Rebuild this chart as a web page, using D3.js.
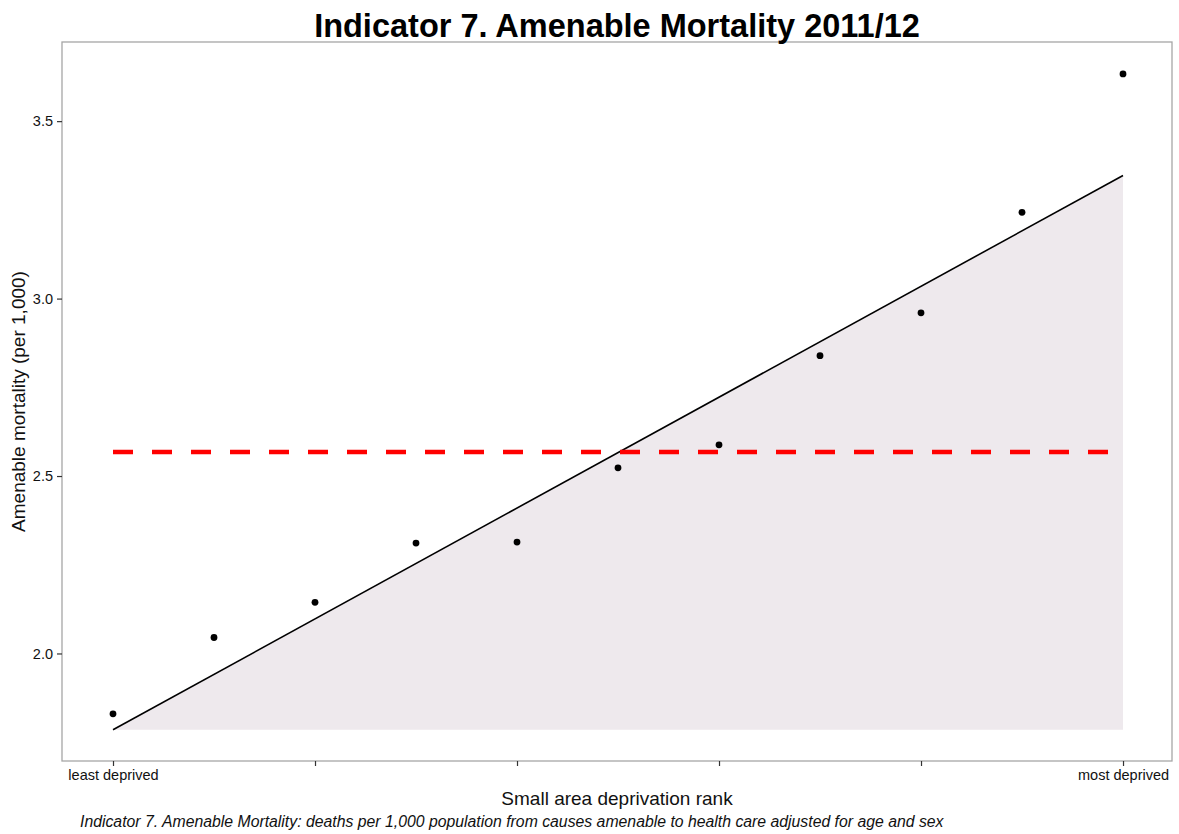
<!DOCTYPE html>
<html>
<head>
<meta charset="utf-8">
<script src="https://cdn.jsdelivr.net/npm/d3@7"></script>
<style>
  html, body { margin: 0; padding: 0; background: #fff; }
  svg { display: block; font-family: "Liberation Sans", Arial, sans-serif; }
</style>
</head>
<body>
<svg id="chart" width="1179" height="834"></svg>
<script>
// Deprivation ranks (11 groups) and amenable mortality per 1,000
const ranks = [0, 1, 2, 3, 4, 5, 6, 7, 8, 9, 10];
const mortality = [1.830, 2.045, 2.144, 2.311, 2.314, 2.523, 2.588, 2.839, 2.960, 3.243, 3.633];
// Fitted regression line end points (rank 0 and rank 10)
const fitEnds = [1.785, 3.347];
// Overall average mortality
const average = [2.568];
const yTicks = [2.0, 2.5, 3.0, 3.5];
const xTicks = [0, 2, 4, 6, 8, 10];
const xTickLabels = ["least deprived", "", "", "", "", "most deprived"];

const svg = d3.select("#chart");
const m = { left: 62, right: 1172, top: 42, bottom: 761 };

const x = d3.scaleLinear().domain([-0.505, 10.485]).range([m.left, m.right]);
const y = d3.scaleLinear().domain([1.697, 3.723]).range([m.bottom, m.top]);

// Shaded area under the fitted line
const fitPts = [[ranks[0], fitEnds[0]], [ranks[ranks.length - 1], fitEnds[1]]];
svg.append("path")
  .attr("d", d3.line().x(d => x(d[0])).y(d => y(d[1]))([
    fitPts[0], fitPts[1], [fitPts[1][0], fitEnds[0]]
  ]) + "Z")
  .attr("fill", "#eee9ed");

// Fitted line
svg.append("line")
  .attr("x1", x(fitPts[0][0])).attr("y1", y(fitPts[0][1]))
  .attr("x2", x(fitPts[1][0])).attr("y2", y(fitPts[1][1]))
  .attr("stroke", "#000").attr("stroke-width", 1.6);

// Average (dashed red)
svg.append("line")
  .attr("x1", x(ranks[0])).attr("y1", y(average[0]))
  .attr("x2", x(ranks[ranks.length - 1])).attr("y2", y(average[0]))
  .attr("stroke", "#ff0000").attr("stroke-width", 4.5)
  .attr("stroke-dasharray", "20,19");

// Points
svg.append("g").selectAll("circle")
  .data(ranks.map((r, i) => [r, mortality[i]]))
  .join("circle")
  .attr("cx", d => x(d[0])).attr("cy", d => y(d[1]))
  .attr("r", 3.4).attr("fill", "#000");

// Panel border
svg.append("rect")
  .attr("x", m.left).attr("y", m.top)
  .attr("width", m.right - m.left).attr("height", m.bottom - m.top)
  .attr("fill", "none").attr("stroke", "#a6a6a6").attr("stroke-width", 1.3);

const tickFont = "14.5px";

// Y axis
const yAxis = svg.append("g")
  .attr("transform", `translate(${m.left},0)`)
  .call(d3.axisLeft(y).tickValues(yTicks).tickFormat(d3.format(".1f")).tickSize(5).tickPadding(4));
yAxis.select(".domain").remove();
yAxis.selectAll(".tick line").attr("stroke", "#333").attr("stroke-width", 1.2);
yAxis.selectAll(".tick text").attr("fill", "#111").style("font-size", tickFont)
  .style("font-family", "'Liberation Sans', Arial, sans-serif");

// X axis
const xAxis = svg.append("g")
  .attr("transform", `translate(0,${m.bottom})`)
  .call(d3.axisBottom(x).tickValues(xTicks).tickFormat((d, i) => xTickLabels[i]).tickSize(5).tickPadding(4));
xAxis.select(".domain").remove();
xAxis.selectAll(".tick line").attr("stroke", "#333").attr("stroke-width", 1.2);
xAxis.selectAll(".tick text").attr("fill", "#111").style("font-size", tickFont)
  .style("font-family", "'Liberation Sans', Arial, sans-serif");

// Title
svg.append("text")
  .attr("x", (m.left + m.right) / 2).attr("y", 37)
  .attr("text-anchor", "middle")
  .style("font-size", "32.5px").style("font-weight", "bold")
  .text("Indicator 7. Amenable Mortality 2011/12");

// Axis titles
svg.append("text")
  .attr("x", (m.left + m.right) / 2).attr("y", 805)
  .attr("text-anchor", "middle").attr("fill", "#111")
  .style("font-size", "19px")
  .text("Small area deprivation rank");

svg.append("text")
  .attr("transform", `translate(25,${(m.top + m.bottom) / 2}) rotate(-90)`)
  .attr("text-anchor", "middle").attr("fill", "#111")
  .style("font-size", "19px")
  .text("Amenable mortality (per 1,000)");

// Caption
svg.append("text")
  .attr("x", 80).attr("y", 827)
  .attr("fill", "#111")
  .style("font-size", "15.8px").style("font-style", "italic")
  .text("Indicator 7. Amenable Mortality: deaths per 1,000 population from causes amenable to health care adjusted for age and sex");
</script>
</body>
</html>
